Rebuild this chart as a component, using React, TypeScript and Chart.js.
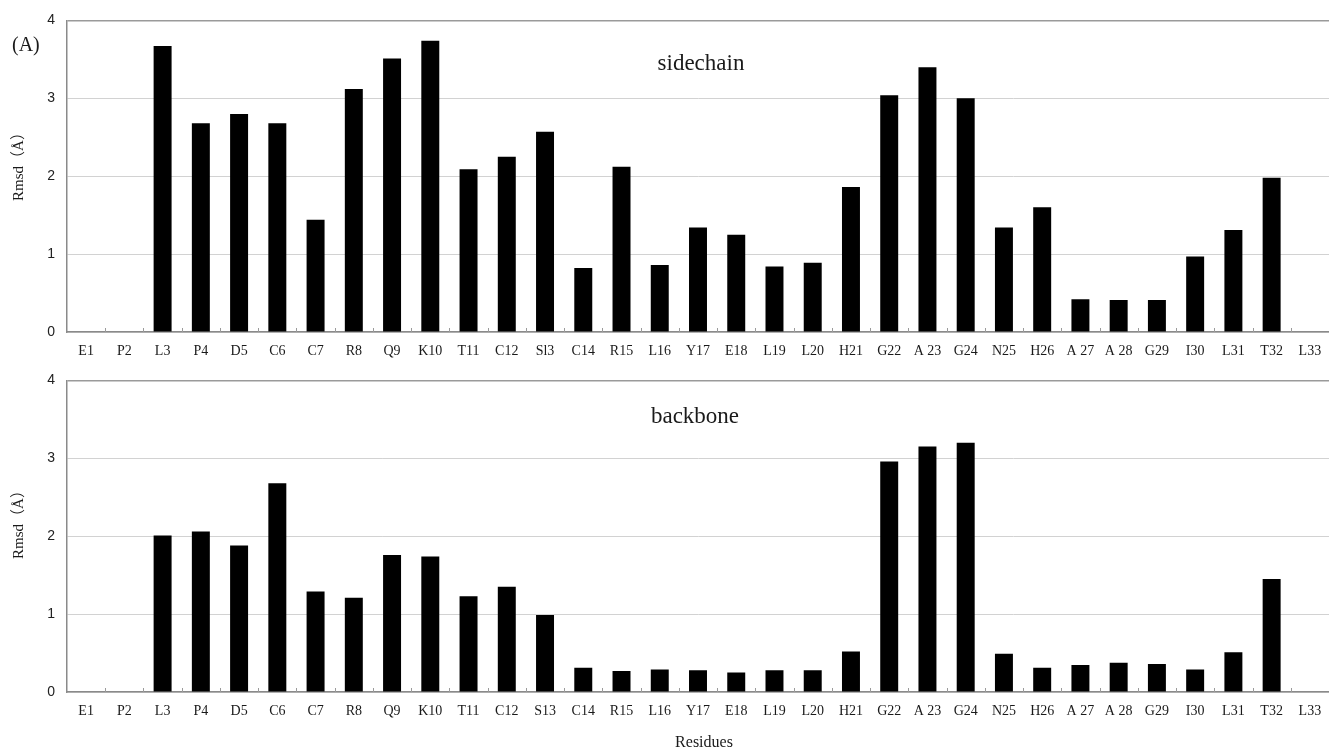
import React, { useEffect, useRef } from "react";
import { Chart, registerables } from "chart.js";

Chart.register(...registerables);

const topLabels = ["E1", "P2", "L3", "P4", "D5", "C6", "C7", "R8", "Q9", "K10", "T11", "C12", "Sl3", "C14", "R15", "L16", "Y17", "E18", "L19", "L20", "H21", "G22", "A 23", "G24", "N25", "H26", "A 27", "A 28", "G29", "I30", "L31", "T32", "L33"];
const bottomLabels = ["E1", "P2", "L3", "P4", "D5", "C6", "C7", "R8", "Q9", "K10", "T11", "C12", "S13", "C14", "R15", "L16", "Y17", "E18", "L19", "L20", "H21", "G22", "A 23", "G24", "N25", "H26", "A 27", "A 28", "G29", "I30", "L31", "T32", "L33"];
const sidechainRmsd = [0, 0, 3.67, 2.68, 2.8, 2.68, 1.44, 3.12, 3.51, 3.74, 2.09, 2.25, 2.57, 0.82, 2.12, 0.86, 1.34, 1.25, 0.84, 0.89, 1.86, 3.04, 3.4, 3.0, 1.34, 1.6, 0.42, 0.41, 0.41, 0.97, 1.31, 1.98, 0];
const backboneRmsd = [0, 0, 2.01, 2.06, 1.88, 2.68, 1.29, 1.21, 1.76, 1.74, 1.23, 1.35, 0.99, 0.31, 0.27, 0.29, 0.28, 0.25, 0.28, 0.28, 0.52, 2.96, 3.15, 3.2, 0.49, 0.31, 0.345, 0.375, 0.36, 0.29, 0.51, 1.45, 0];
const yTickValues = [0, 1, 2, 3, 4];

const SERIF = '"Liberation Serif", "Times New Roman", serif';
const SANS = '"Liberation Sans", Arial, sans-serif';
const TITLE_FONT = '"Liberation Serif", "Noto Sans CJK JP", serif';

type TextItem = { text: string; x: number; y: number; font: string; align: CanvasTextAlign; baseline: CanvasTextBaseline; rotate?: boolean };

const panelPlugin = {
  id: "panelDecor",
  afterDraw(chart: any, _args: any, opts: any) {
    const { ctx, chartArea: a } = chart;
    const xs = chart.scales.x;
    const n = chart.data.labels.length;
    ctx.save();
    ctx.strokeStyle = "#9a9a9a";
    ctx.lineWidth = 1;
    for (let i = 1; i < n; i++) {
      const x = Math.round((xs.getPixelForValue(i - 1) + xs.getPixelForValue(i)) / 2) + 0.5;
      ctx.beginPath();
      ctx.moveTo(x, a.bottom);
      ctx.lineTo(x, a.bottom - 4);
      ctx.stroke();
    }
    ctx.fillStyle = "#1a1a1a";
    (opts.items || []).forEach((t: TextItem) => {
      ctx.save();
      ctx.font = t.font;
      ctx.textAlign = t.align;
      ctx.textBaseline = t.baseline;
      if (t.rotate) {
        ctx.translate(t.x, t.y);
        ctx.rotate(-Math.PI / 2);
        ctx.fillText(t.text, 0, 0);
      } else {
        ctx.fillText(t.text, t.x, t.y);
      }
      ctx.restore();
    });
    ctx.restore();
  },
};

function build(canvas: HTMLCanvasElement, labels: string[], values: number[], padTop: number, xHeight: number, items: TextItem[]) {
  return new Chart(canvas, {
    type: "bar",
    data: {
      labels,
      datasets: [
        {
          data: values,
          backgroundColor: "#000000",
          borderWidth: 0,
          barPercentage: 0.47,
          categoryPercentage: 1,
        },
      ],
    },
    options: {
      responsive: false,
      animation: false,
      devicePixelRatio: 1,
      layout: { padding: { top: padTop, left: 0, right: 0, bottom: 0 } },
      plugins: {
        legend: { display: false },
        tooltip: { enabled: false },
        panelDecor: { items },
      } as any,
      scales: {
        x: {
          grid: { display: false, drawTicks: false },
          border: { display: true, color: "#8a8a8a", width: 1.5 },
          ticks: {
            autoSkip: false,
            maxRotation: 0,
            minRotation: 0,
            padding: 11,
            color: "#1a1a1a",
            font: { family: SERIF, size: 14 },
          },
          afterFit: (s: any) => {
            s.height = xHeight;
            s.paddingLeft = 0;
            s.paddingRight = 0;
          },
        },
        y: {
          min: 0,
          max: 4,
          afterBuildTicks: (s: any) => {
            s.ticks = yTickValues.map((v) => ({ value: v }));
          },
          grid: {
            color: (c: any) => (c.tick && c.tick.value === 4 ? "#9a9a9a" : "#d2d2d2"),
            lineWidth: (c: any) => (c.tick && c.tick.value === 4 ? 1.5 : 1),
            drawTicks: false,
          },
          border: { display: true, color: "#8a8a8a", width: 1.5 },
          ticks: {
            padding: 12,
            color: "#222222",
            font: { family: SANS, size: 14 },
          },
          afterFit: (s: any) => {
            s.width = 67;
          },
        },
      },
    } as any,
    plugins: [panelPlugin],
  });
}

export default function App() {
  const topRef = useRef<HTMLCanvasElement>(null);
  const botRef = useRef<HTMLCanvasElement>(null);

  useEffect(() => {
    const c1 = build(topRef.current!, topLabels, sidechainRmsd, 18, 28, [
      { text: "(A)", x: 12, y: 46, font: `20px ${SERIF}`, align: "left", baseline: "middle" },
      { text: "sidechain", x: 701, y: 70, font: `23px ${SERIF}`, align: "center", baseline: "alphabetic" },
      { text: "Rmsd（Å）", x: 19, y: 163, font: `15px ${TITLE_FONT}`, align: "center", baseline: "middle", rotate: true },
    ]);
    const c2 = build(botRef.current!, bottomLabels, backboneRmsd, 20, 57, [
      { text: "backbone", x: 695, y: 63, font: `23px ${SERIF}`, align: "center", baseline: "alphabetic" },
      { text: "Rmsd（Å）", x: 19, y: 161, font: `15px ${TITLE_FONT}`, align: "center", baseline: "middle", rotate: true },
      { text: "Residues", x: 704, y: 387, font: `16px ${SERIF}`, align: "center", baseline: "alphabetic" },
    ]);
    return () => {
      c1.destroy();
      c2.destroy();
    };
  }, []);

  return (
    <div style={{ position: "absolute", left: 0, top: 0, width: 1329, height: 749, background: "#ffffff", overflow: "hidden" }}>
      <canvas ref={topRef} width={1329} height={360} style={{ position: "absolute", left: 0, top: 0, width: 1329, height: 360 }} />
      <canvas ref={botRef} width={1329} height={389} style={{ position: "absolute", left: 0, top: 360, width: 1329, height: 389 }} />
    </div>
  );
}
